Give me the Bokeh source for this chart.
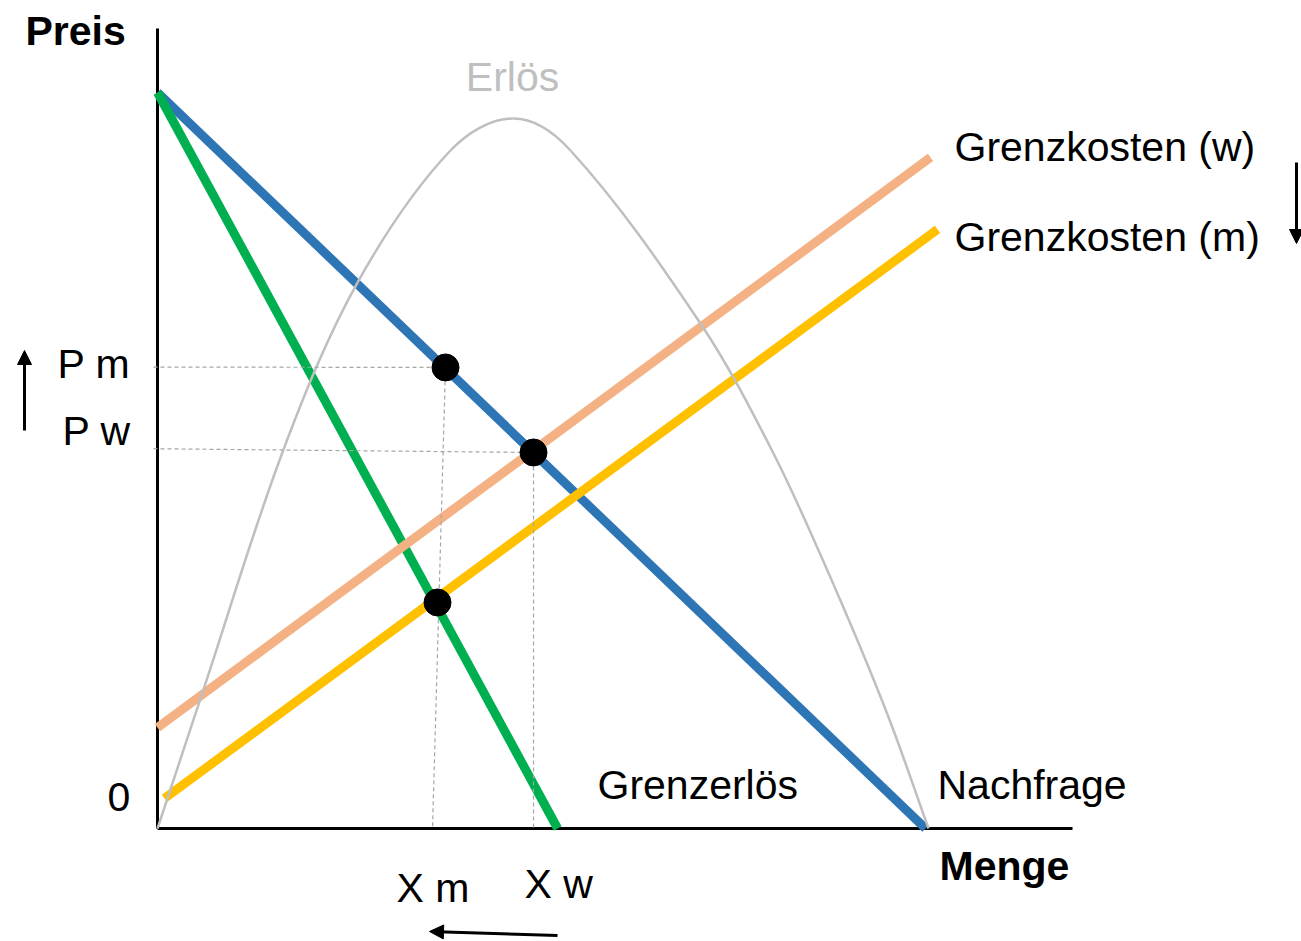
import math

from bokeh.plotting import figure
from bokeh.models import Range1d, Label, Arrow, NormalHead
from bokeh.embed import file_html
from bokeh.resources import INLINE

# ---- data (quantity Q, price P) ----
nachfrage_q = [0.0, 100.0]
nachfrage_p = [100.0, 0.0]

grenzerloes_q = [0.0, 52.1]
grenzerloes_p = [100.0, 0.0]

gk_w_q = [0.0, 100.65]
gk_w_p = [13.72, 91.17]

gk_m_q = [0.91, 101.56]
gk_m_p = [4.08, 81.39]

erloes_q = [0.0, 5.86, 16.41, 26.04, 38.15, 46.35, 53.78,
            70.70, 80.21, 88.02, 95.05, 100.39]
erloes_p = [0.0, 18.48, 51.49, 74.18, 92.12, 96.47, 92.12,
            68.61, 50.95, 33.15, 15.49, 0.0]

# equilibrium points: monopoly (m) on demand, competition (w), MR = MC(m)
punkt_q = [37.5, 48.96, 36.46]
punkt_p = [62.64, 51.09, 30.71]

x_m, x_w = 35.81, 48.96
p_m, p_w = 62.7, 51.6

# ---- canvas geometry ----
W, H = 1301, 941
OX, OY = 157, 828          # origin on the canvas
QU, PU = 7.68, 7.36        # pixels per unit


def q_at(px):
    return (px - OX) / QU


def p_at(py):
    return (OY - py) / PU


p = figure(width=W, height=H,
           x_range=Range1d(q_at(0), q_at(W)),
           y_range=Range1d(p_at(H), p_at(0)),
           output_backend="svg", toolbar_location=None,
           x_axis_location=None, y_axis_location=None,
           min_border=0, outline_line_color=None)
p.grid.visible = False
p.background_fill_color = "white"
p.border_fill_color = "white"

# axes
p.line([0, 0], [0, p_at(28)], line_color="black", line_width=3)
p.line([0, q_at(1072)], [0, 0], line_color="black", line_width=3)

# straight curves
p.line(nachfrage_q, nachfrage_p, line_color="#2E75B6", line_width=9)
p.line(grenzerloes_q, grenzerloes_p, line_color="#00B050", line_width=9)
p.line(gk_w_q, gk_w_p, line_color="#F4B183", line_width=9)
p.line(gk_m_q, gk_m_p, line_color="#FFC000", line_width=9)

# revenue curve: cubic segments through the points, tangent at each point
# along the chord of its neighbours, handles a third of the segment length
n = len(erloes_q)
tangents = []
for i in range(n):
    a, b = max(i - 1, 0), min(i + 1, n - 1)
    dx = (erloes_q[b] - erloes_q[a]) * QU
    dy = (erloes_p[b] - erloes_p[a]) * PU
    norm = math.hypot(dx, dy)
    tangents.append((dx / norm, dy / norm))

seg = {k: [] for k in ("x0", "y0", "x1", "y1", "cx0", "cy0", "cx1", "cy1")}
for i in range(n - 1):
    length = math.hypot((erloes_q[i + 1] - erloes_q[i]) * QU,
                        (erloes_p[i + 1] - erloes_p[i]) * PU) / 3
    t0, t1 = tangents[i], tangents[i + 1]
    seg["x0"].append(erloes_q[i])
    seg["y0"].append(erloes_p[i])
    seg["x1"].append(erloes_q[i + 1])
    seg["y1"].append(erloes_p[i + 1])
    seg["cx0"].append(erloes_q[i] + t0[0] * length / QU)
    seg["cy0"].append(erloes_p[i] + t0[1] * length / PU)
    seg["cx1"].append(erloes_q[i + 1] - t1[0] * length / QU)
    seg["cy1"].append(erloes_p[i + 1] - t1[1] * length / PU)
p.bezier(source=seg, x0="x0", y0="y0", x1="x1", y1="y1",
         cx0="cx0", cy0="cy0", cx1="cx1", cy1="cy1",
         line_color="#BFBFBF", line_width=2.5)

# guide lines
guide = dict(line_color="#A6A6A6", line_width=1.2, line_dash="4 3")
p.line([q_at(153), punkt_q[0]], [p_m, punkt_p[0]], **guide)
p.line([punkt_q[0], x_m], [punkt_p[0], 0], **guide)
p.line([q_at(153), punkt_q[1]], [p_w, punkt_p[1]], **guide)
p.line([x_w, x_w], [punkt_p[1], 0], **guide)

p.scatter(punkt_q, punkt_p, size=27, fill_color="black", line_color="black")

# labels
FONT = "Liberation Sans"


def label(txt, px, py, color="black", bold=False, align="left"):
    p.add_layout(Label(x=q_at(px), y=p_at(py), text=txt,
                       text_font=FONT, text_font_size="41px",
                       text_color=color, text_align=align,
                       text_baseline="alphabetic",
                       text_font_style="bold" if bold else "normal"))


label("Preis", 25, 30, bold=True)
label("Menge", 939, 865, bold=True)
label("Erlös", 512, 76, color="#BFBFBF", align="center")
label("Grenzkosten (w)", 954, 146)
label("Grenzkosten (m)", 954, 236)
label("P m", 57, 363)
label("P w", 62, 430)
label("0", 107, 796)
label("Grenzerlös", 597, 784)
label("Nachfrage", 937, 784)
label("X m", 396, 887)
label("X w", 524, 883)


def arrow(x0, y0, x1, y1):
    p.add_layout(Arrow(end=NormalHead(size=14, fill_color="black",
                                      line_color="black", line_width=1),
                       x_start=q_at(x0), y_start=p_at(y0),
                       x_end=q_at(x1), y_end=p_at(y1),
                       line_color="black", line_width=3))


arrow(24, 430, 24, 350)
arrow(1296, 162, 1296, 243)
arrow(557, 935, 429, 931)

open("out.html", "w").write(file_html(p, INLINE))
